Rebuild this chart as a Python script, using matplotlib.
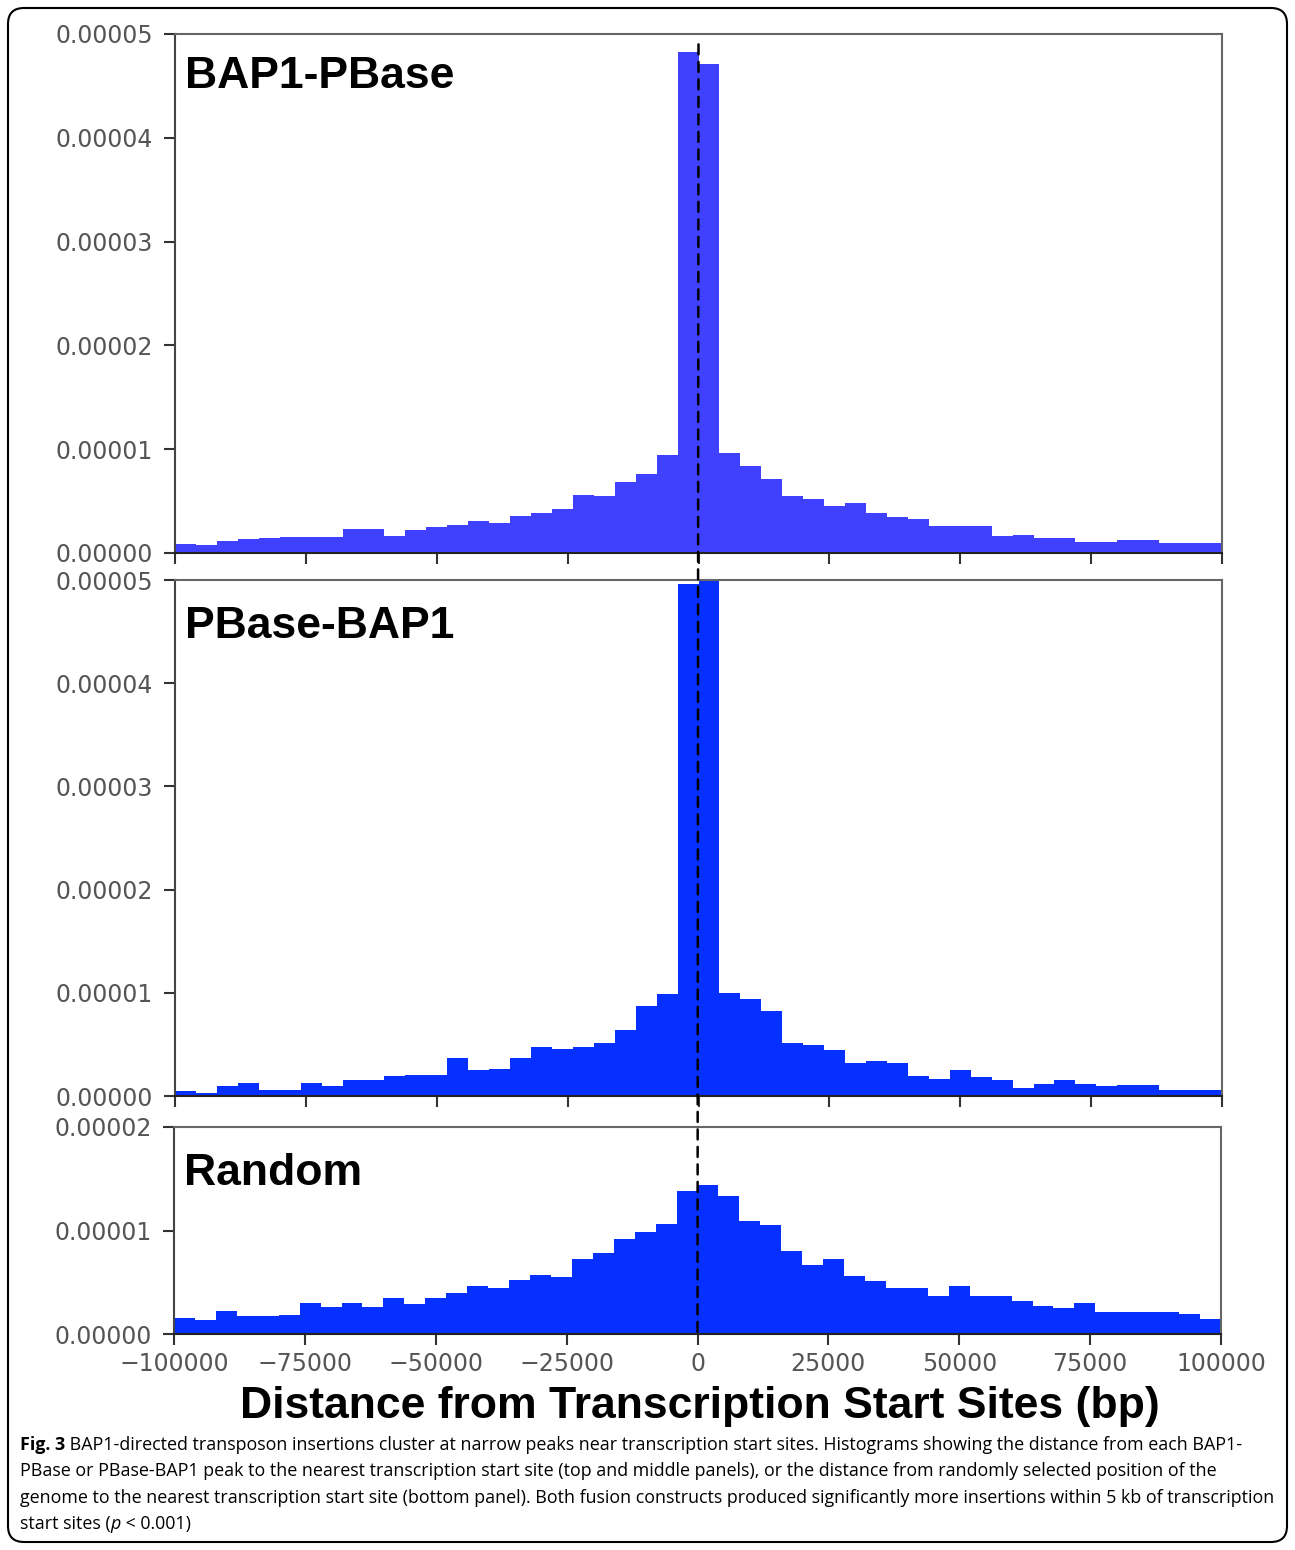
import numpy as np
import matplotlib.pyplot as plt
from matplotlib.patches import FancyBboxPatch, ConnectionPatch
from matplotlib.transforms import IdentityTransform

W, H = 1295, 1550

bin_edges = np.arange(-100000, 100001, 4000)
x_ticks = [-100000, -75000, -50000, -25000, 0, 25000, 50000, 75000, 100000]

# bar heights, in units of 1e-6
bap1_pbase = [0.87, 0.74, 1.19, 1.35, 1.41, 1.51, 1.51, 1.51, 2.35, 2.35, 1.67, 2.19,
              2.48, 2.73, 3.12, 2.86, 3.57, 3.86, 4.24, 5.59, 5.47, 6.82, 7.65, 9.45,
              48.3, 47.1,
              9.65, 8.36, 7.14, 5.47, 5.21, 4.50, 4.79, 3.83, 3.47, 3.28, 2.64, 2.64,
              2.64, 1.61, 1.77, 1.48, 1.48, 1.09, 1.09, 1.22, 1.22, 0.96, 0.96, 0.96]
pbase_bap1 = [0.46, 0.29, 0.98, 1.24, 0.59, 0.59, 1.24, 0.98, 1.54, 1.54, 1.93, 2.06,
              2.06, 3.69, 2.52, 2.61, 3.69, 4.77, 4.58, 4.77, 5.10, 6.44, 8.76, 9.87,
              49.6, 53.0,
              10.0, 9.44, 8.27, 5.13, 4.93, 4.41, 3.20, 3.37, 3.17, 1.93, 1.67, 2.48,
              1.80, 1.54, 0.75, 1.21, 1.54, 1.21, 0.98, 1.08, 1.08, 0.56, 0.56, 0.56]
random_pos = [1.56, 1.36, 2.27, 1.75, 1.75, 1.88, 2.95, 2.60, 2.95, 2.60, 3.50, 2.86,
              3.50, 3.93, 4.61, 4.48, 5.26, 5.71, 5.49, 7.21, 7.86, 9.16, 9.90, 10.6,
              13.8, 14.4,
              13.3, 10.9, 10.5, 8.05, 6.66, 7.21, 5.58, 5.13, 4.45, 4.45, 3.70, 4.61,
              3.67, 3.67, 3.21, 2.69, 2.56, 2.99, 2.14, 2.14, 2.14, 2.08, 1.98, 1.46]

panel_names = ['BAP1-PBase', 'PBase-BAP1', 'Random']
panel_data = [bap1_pbase, pbase_bap1, random_pos]
panel_ymax = [5e-5, 5e-5, 2e-5]
panel_yticks = [[0, 1e-5, 2e-5, 3e-5, 4e-5, 5e-5],
                [0, 1e-5, 2e-5, 3e-5, 4e-5, 5e-5],
                [0, 1e-5, 2e-5]]
bar_colors = ['#4040ff', '#0530ff', '#0530ff']

# panel boxes in pixels: left, top, right, bottom
boxes = [(175, 34, 1222, 553), (175, 580, 1222, 1096), (174, 1127, 1221, 1334)]
label_offsets = [54, 58, 58]

caption_lines = [
    "BAP1-directed transposon insertions cluster at narrow peaks near transcription start sites. Histograms showing the distance from each BAP1-",
    "PBase or PBase-BAP1 peak to the nearest transcription start site (top and middle panels), or the distance from randomly selected position of the",
    "genome to the nearest transcription start site (bottom panel). Both fusion constructs produced significantly more insertions within 5 kb of transcription",
    "start sites (",
]

fig = plt.figure(figsize=(W / 100, H / 100), dpi=100)
tick_gray = '#555555'

axes = []
for i, (name, vals) in enumerate(zip(panel_names, panel_data)):
    l, t, r, b = boxes[i]
    ax = fig.add_axes([l / W, 1 - b / H, (r - l) / W, (b - t) / H])
    ax.bar(bin_edges[:-1], np.array(vals) * 1e-6, width=4000, align='edge',
           color=bar_colors[i], linewidth=0)
    ax.set_xlim(-100000, 100000)
    ax.set_ylim(0, panel_ymax[i])
    ax.set_xticks(x_ticks)
    ax.set_yticks(panel_yticks[i])
    ax.set_yticklabels(['%.5f' % v for v in panel_yticks[i]])
    ax.tick_params(axis='both', direction='out', length=8, width=1.5,
                   colors='#333333', labelcolor=tick_gray, labelsize=17, pad=5)
    ax.tick_params(axis='y', pad=8)
    ax.tick_params(top=False, right=False)
    if i < 2:
        ax.set_xticklabels([])
    else:
        ax.set_xticklabels(['%d' % v if v >= 0 else '\u2212%d' % -v for v in x_ticks])
    for side in ax.spines:
        ax.spines[side].set_color('#666666')
        ax.spines[side].set_linewidth(1.5)
    ax.spines['bottom'].set_color('#222222')
    ax.spines['left'].set_color('#444444')
    ax.annotate(name, xy=(0, 1), xycoords='axes fraction',
                xytext=(7, -label_offsets[i] * 0.72), textcoords='offset points',
                ha='left', va='baseline', fontsize=32, fontweight='bold',
                family='Liberation Sans')
    axes.append(ax)

# dashed line at the TSS running through all three panels
con = ConnectionPatch(xyA=(0, panel_ymax[0] * 0.98), coordsA='data', axesA=axes[0],
                      xyB=(0, 0), coordsB='data', axesB=axes[2],
                      color='black', linewidth=1.8, linestyle=(0, (4, 3)), zorder=5)
fig.add_artist(con)

fig.text(700 / W, 1 - 1418 / H, 'Distance from Transcription Start Sites (bp)',
         ha='center', va='baseline', fontsize=32, fontweight='bold',
         family='Liberation Sans')

# caption
cap_font = 'Open Sans'
cap_size = 12.9
baselines = [1450, 1476, 1503, 1529]
first = fig.text(20 / W, 1 - baselines[0] / H, 'Fig. 3', ha='left', va='baseline',
                 fontsize=cap_size, fontweight='bold', family=cap_font)
plt.annotate(' ' + caption_lines[0], xy=(1, 0), xycoords=first, va='bottom',
             fontsize=cap_size, family=cap_font, annotation_clip=False)
for k in (1, 2):
    fig.text(20 / W, 1 - baselines[k] / H, caption_lines[k], ha='left', va='baseline',
             fontsize=cap_size, family=cap_font)
last = fig.text(20 / W, 1 - baselines[3] / H, caption_lines[3], ha='left',
                va='baseline', fontsize=cap_size, family=cap_font)
p_txt = plt.annotate('p', xy=(1, 0), xycoords=last, va='bottom', fontsize=cap_size,
                     family=cap_font, style='italic', annotation_clip=False)
plt.annotate(' < 0.001)', xy=(1, 0), xycoords=p_txt, va='bottom', fontsize=cap_size,
             family=cap_font, annotation_clip=False)

# rounded frame around everything
frame = FancyBboxPatch((8, 8), 1279, 1534, boxstyle='round,pad=0,rounding_size=16',
                       transform=IdentityTransform(), facecolor='none',
                       edgecolor='black', linewidth=1.5)
fig.add_artist(frame)

fig.savefig('out.png', dpi=100)
